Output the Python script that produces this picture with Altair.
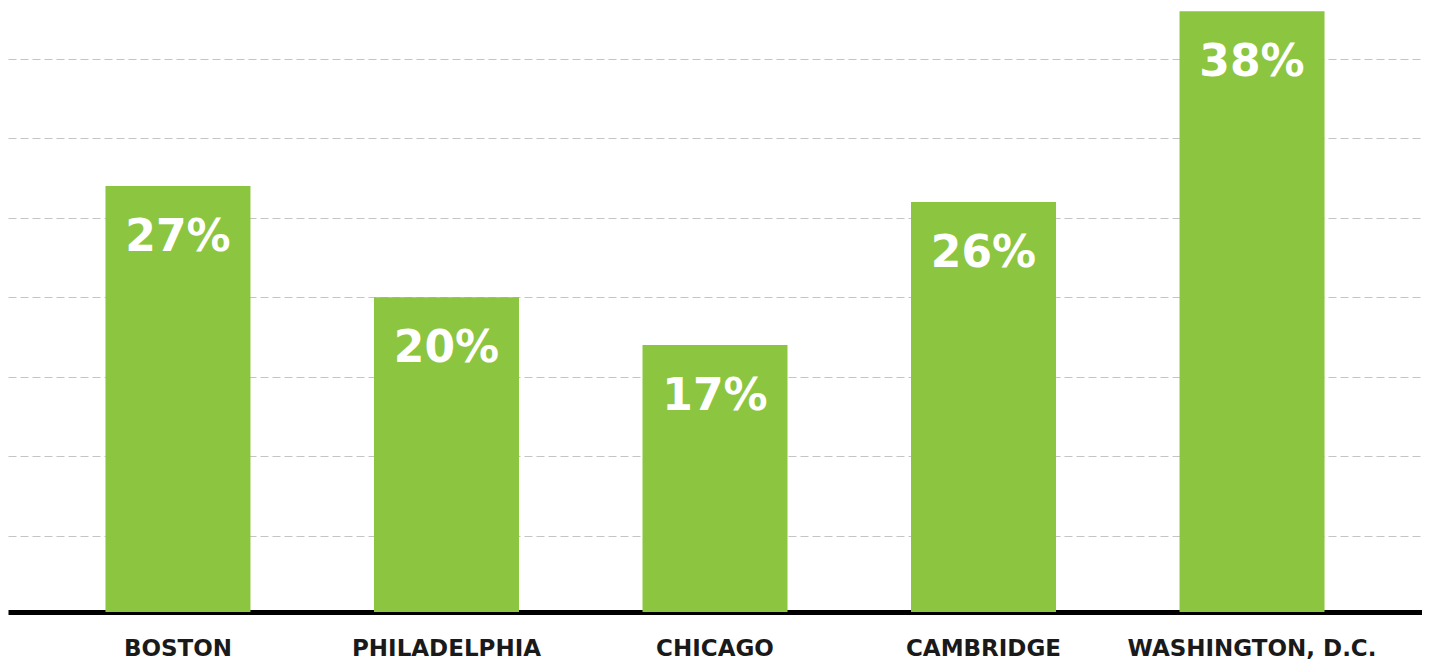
import altair as alt
import pandas as pd

cities = ["BOSTON", "PHILADELPHIA", "CHICAGO", "CAMBRIDGE", "WASHINGTON, D.C."]
values = [27, 20, 17, 26, 38]
labels = ["27%", "20%", "17%", "26%", "38%"]
grid_values = [5, 10, 15, 20, 25, 30, 35]

df = pd.DataFrame({"city": cities, "value": values, "label": labels})

x_enc = alt.X(
    "city:N",
    sort=cities,
    scale=alt.Scale(paddingInner=0.46, paddingOuter=0.363),
    axis=alt.Axis(
        title=None,
        labelAngle=0,
        labelFont="DejaVu Sans",
        labelFontWeight="bold",
        labelFontSize=23,
        labelColor="#1a1a1a",
        labelPadding=25,
        labelLimit=0,
        ticks=False,
        domain=True,
        domainColor="#000000",
        domainWidth=5,
        grid=False,
    ),
)
y_enc = alt.Y(
    "value:Q",
    scale=alt.Scale(domain=[0.2, 38.2], nice=False, zero=False),
    axis=alt.Axis(
        title=None,
        labels=False,
        ticks=False,
        domain=False,
        values=grid_values,
        grid=True,
        gridColor="#c4c4c4",
        gridDash=[8, 4],
        gridWidth=1,
    ),
)

bars = alt.Chart(df).mark_bar(color="#8cc540", clip=True).encode(x=x_enc, y=y_enc)

text = alt.Chart(df).mark_text(
    color="white",
    font="DejaVu Sans",
    fontWeight="bold",
    fontSize=44,
    baseline="top",
    dy=30,
).encode(x=alt.X("city:N", sort=cities), y="value:Q", text="label:N")

chart = (
    alt.layer(bars, text)
    .properties(width=1414, height=604, padding=0, background="white")
    .configure_view(stroke=None, strokeWidth=0)
)

chart.save("out.html", embed_options={"renderer": "svg", "actions": False})
